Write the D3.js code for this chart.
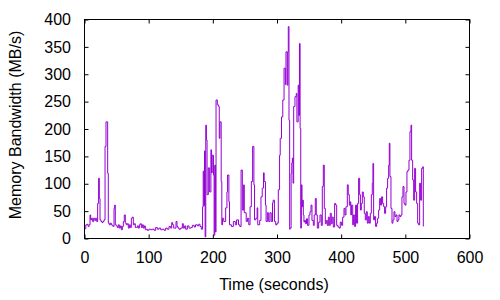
<!DOCTYPE html>
<html>
<head>
<meta charset="utf-8">
<script src="https://cdn.jsdelivr.net/npm/d3@7"></script>
<style>
  body { margin: 0; background: #fff; }
  svg { display: block; font-family: "Liberation Sans", Arial, sans-serif; }
</style>
</head>
<body>
<svg id="chart" width="500" height="300"></svg>
<script>
// [time (s), bandwidth (MB/s)] samples, split by phase
const quietPhase = [
  [0, 18], [2, 25], [4, 26], [5.5, 22], [7, 25], [8.6, 43], [9.6, 34], [11, 37],
  [12.7, 31], [14.3, 37], [16, 33], [17.4, 37], [19, 31], [20.5, 64], [22, 110],
  [23.1, 73], [24.2, 34], [25.7, 31], [27.3, 29], [28.8, 31], [30.4, 34], [32, 168],
  [33.5, 213], [35.1, 213], [36.1, 119], [37.1, 28], [38.7, 25], [40.3, 28],
  [41.8, 25], [43.4, 23], [45, 22], [46, 55], [47, 61], [48, 25], [49.6, 23],
  [51.2, 20], [52.7, 25], [54.3, 19], [55.9, 23], [57.4, 16], [59, 22], [60.5, 31],
  [62, 43], [63.6, 28], [65.2, 25], [66.8, 27], [68.3, 19], [69.9, 25], [71.4, 20],
  [73, 37], [74.5, 39], [76.1, 25], [77.7, 27], [79.2, 20], [80.8, 20], [82.3, 23],
  [83.9, 19], [85.5, 25], [87, 27], [88.6, 20], [90.1, 25], [91.7, 19], [93.3, 23],
  [94.8, 16], [96.4, 17], [98, 15], [100.5, 17], [103.1, 16], [105.7, 17], [108.3, 15],
  [110.9, 20], [113.5, 17], [116.1, 19], [118.7, 16], [121.3, 17], [123.9, 15],
  [126.5, 19], [129.1, 17], [131.7, 22], [134.3, 19], [135.9, 29], [137.4, 25],
  [139, 19], [140.5, 19], [142.6, 31], [144.2, 22], [145.7, 19], [147.3, 17],
  [149.9, 19], [152.5, 27], [154, 19], [156.1, 23], [157.7, 17], [160.3, 23],
  [162.9, 19], [166, 20], [168, 24], [171, 21], [173, 25], [176, 23], [178, 26],
  [180, 22], [182, 17]
];

const burstPhase = [
  [184, 58], [185, 123], [186, 60], [187, 160], [188, 3], [189, 207], [190, 180],
  [191, 80], [193, 129], [195, 85], [197, 162], [198, 120], [199, 152], [201, 116],
  [202, 6], [203, 134], [204, 12], [205, 253], [207, 244], [209, 241], [210, 183],
  [211, 213], [213, 104], [214, 25], [215, 37], [217, 31], [220, 56], [222, 85],
  [223, 116], [225, 67], [226, 25], [229, 22], [232, 31], [235, 25], [237, 34],
  [240, 25], [242, 22], [244, 125], [246, 52], [248, 98], [249, 47], [252, 31],
  [254, 37], [256, 25], [258, 58], [260, 104], [262, 168], [264, 98], [265, 34],
  [267, 37], [269, 56], [270, 25], [273, 33], [275, 76], [277, 92], [279, 120],
  [280, 104], [282, 61], [283, 31], [285, 47], [287, 31], [289, 47], [291, 31],
  [293, 65], [294, 70], [296, 31], [298, 25], [300, 28], [302, 89], [304, 152],
  [305, 183], [307, 222], [309, 253], [311, 311], [313, 281], [314, 341], [316, 280],
  [317, 341], [317.6, 387], [318.7, 216], [319.7, 17]
];

const peakPhase = [
  [320.5, 19], [322, 119], [323, 138], [324, 147], [325, 101], [326, 241], [328, 259],
  [330, 265], [331, 213], [333, 280], [334, 225], [335, 356], [336, 201], [337, 19],
  [338, 98], [339, 58], [340, 70], [341, 43], [342, 30], [343, 33], [344.6, 27],
  [346, 36], [347.7, 24], [349.8, 43], [351.4, 49], [353, 61], [354.5, 33], [356.6, 24],
  [358, 43], [359.7, 73], [361.2, 43], [362.8, 19], [364.9, 30], [367, 43], [369, 24],
  [370.6, 95], [372.2, 134], [373.7, 55], [375.3, 27], [376.8, 33], [378.4, 24],
  [380, 39], [381.5, 24], [383, 46], [384.6, 27], [386, 39], [387.7, 21], [389.8, 64],
  [391.4, 61], [393, 24], [395, 21], [397, 19], [398.6, 30], [400.7, 24], [402.3, 39],
  [404.4, 55], [406, 43], [407.5, 58], [409.6, 98], [411, 80], [412.7, 61]
];

const tailPhase = [
  [414, 67], [415, 43], [416, 61], [418, 25], [419.4, 43], [421, 22], [422.5, 61],
  [424, 28], [425.6, 64], [427.2, 110], [428.8, 80], [430, 52], [431.4, 64], [433, 85],
  [434.5, 76], [436, 46], [437.6, 34], [439.2, 49], [440.7, 28], [442.3, 40],
  [443.8, 28], [445.4, 46], [447, 80], [448.5, 101], [449.5, 137], [450.6, 34],
  [452, 40], [453.7, 22], [455.3, 28], [456.8, 37], [458.4, 52], [460, 73],
  [461.5, 61], [463, 76], [464.6, 64], [466.2, 58], [467.7, 46], [469.3, 58],
  [470.8, 92], [472.4, 110], [474, 134], [475, 174], [476, 113], [477.6, 55],
  [479.2, 28], [480.7, 34], [482.3, 49], [483.8, 40], [485.4, 43], [487, 31],
  [488.5, 34], [490, 43], [491.6, 40], [493.2, 43], [494.7, 76], [496.3, 95],
  [497.9, 64], [499.4, 61], [501, 85], [502.5, 122], [504, 125], [505.7, 143],
  [507.2, 195], [508.8, 207], [509.8, 143], [511.4, 107], [513, 70], [514.5, 128],
  [516, 85], [517.6, 64], [519.2, 28], [520.7, 25], [522.3, 101], [523.8, 70],
  [525.4, 128], [527, 131], [528, 22]
];

const xTicks = [0, 100, 200, 300, 400, 500, 600];
const yTicks = [0, 50, 100, 150, 200, 250, 300, 350, 400];

const data = quietPhase.concat(burstPhase, peakPhase, tailPhase);

// plot box
const plotLeft = 84.5, plotRight = 469.5, plotTop = 19.5, plotBottom = 238.5;
const fontSize = 16;

const svg = d3.select("#chart");

const x = d3.scaleLinear().domain([0, 600]).range([plotLeft, plotRight]);
const y = d3.scaleLinear().domain([0, 400]).range([plotBottom, plotTop]);

// data line, gnuplot "with steps"
const line = d3.line()
  .x((d) => x(d[0]))
  .y((d) => y(d[1]))
  .curve(d3.curveStepAfter);

svg.append("path")
  .datum(data)
  .attr("d", line)
  .attr("fill", "none")
  .attr("stroke", "#9400d3")
  .attr("stroke-width", 1);

// axes: ticks point inward, mirrored on top and right
function styleAxis(g) {
  g.select(".domain").remove();
  g.selectAll(".tick line").attr("stroke", "#000").attr("stroke-width", 1);
  g.selectAll("text")
    .attr("fill", "#000")
    .style("font-size", fontSize + "px")
    .style("font-family", '"Liberation Sans", Arial, sans-serif');
}

svg.append("g")
  .attr("transform", "translate(0," + plotBottom + ")")
  .call(d3.axisBottom(x).tickValues(xTicks).tickSizeInner(-4).tickSizeOuter(0).tickPadding(13))
  .call(styleAxis);

svg.append("g")
  .attr("transform", "translate(" + plotLeft + ",0)")
  .call(d3.axisLeft(y).tickValues(yTicks).tickSizeInner(-4).tickSizeOuter(0).tickPadding(13.5))
  .call(styleAxis);

svg.append("g")
  .attr("transform", "translate(0," + plotTop + ")")
  .call(d3.axisTop(x).tickValues(xTicks).tickSizeInner(-4).tickSizeOuter(0).tickFormat(""))
  .call(styleAxis);

svg.append("g")
  .attr("transform", "translate(" + plotRight + ",0)")
  .call(d3.axisRight(y).tickValues(yTicks).tickSizeInner(-4).tickSizeOuter(0).tickFormat(""))
  .call(styleAxis);

// border
svg.append("rect")
  .attr("x", plotLeft)
  .attr("y", plotTop)
  .attr("width", plotRight - plotLeft)
  .attr("height", plotBottom - plotTop)
  .attr("fill", "none")
  .attr("stroke", "#000")
  .attr("stroke-width", 1);

// axis titles
svg.append("text")
  .attr("x", 274)
  .attr("y", 290)
  .attr("text-anchor", "middle")
  .style("font-size", fontSize + "px")
  .text("Time (seconds)");

svg.append("text")
  .attr("transform", "translate(21,125) rotate(-90)")
  .attr("text-anchor", "middle")
  .style("font-size", fontSize + "px")
  .text("Memory Bandwidth (MB/s)");
</script>
</body>
</html>
